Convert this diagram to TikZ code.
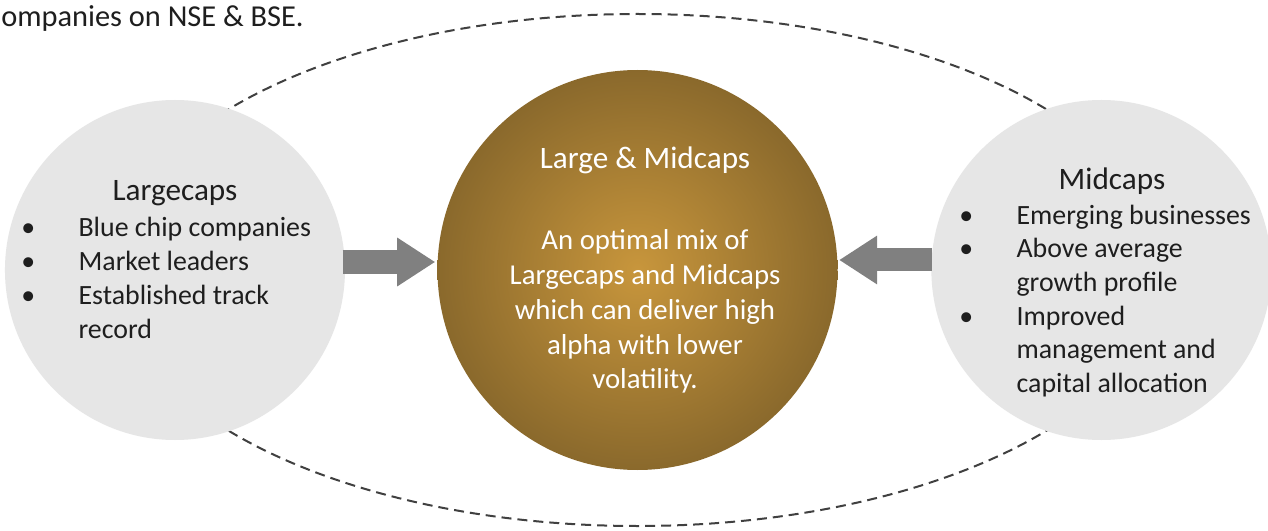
\documentclass[tikz,border=0pt]{standalone}
\usepackage{fontspec}
\setmainfont{Carlito}
\usepackage{xcolor}
\usepackage{tikz}
\usetikzlibrary{
  positioning,
  arrows.meta,
}
\definecolor{capgray}{RGB}{230,230,230}
\definecolor{arrowgray}{RGB}{128,128,128}
\definecolor{goldin}{RGB}{200,150,60}
\definecolor{goldout}{RGB}{138,105,44}
\definecolor{inkgray}{RGB}{30,30,30}
\definecolor{loopgray}{RGB}{64,64,64}
\tikzset{
  cap circle/.style={
    circle,
    fill=capgray,
    minimum size=255pt,
    inner sep=0pt
  },
  mix circle/.style={
    circle,
    inner color=goldin,
    outer color=goldout,
    minimum size=300pt,
    inner sep=0pt
  },
  push arrow/.style={
    arrowgray,
    line width=17.25pt,
    -{Triangle[width=34.5pt, length=28.5pt]}
  },
  loop line/.style={
    loopgray,
    line width=1.5pt,
    dash pattern=on 7.5pt off 4.5pt
  },
  title text/.style={
    inkgray,
    inner sep=0pt,
    anchor=base,
    font=\fontsize{23.4}{28}\selectfont
  },
  list text/.style={
    inkgray,
    inner sep=0pt,
    anchor=base west,
    font=\fontsize{20.9}{25.3}\selectfont
  }
}
\newcommand{\bulletlist}[1]{\begin{tabular}[t]{@{}p{43pt}@{}l@{}}#1\end{tabular}}

\begin{document}
\begin{tikzpicture}[x=0.75pt, y=-0.75pt]
  \useasboundingbox[fill=white] (0,0) rectangle (1268,531);

  \node[inkgray, anchor=base west, inner sep=0pt, font=\fontsize{22.8}{28}\selectfont] (intro) at (1,27) {ompanies on NSE \& BSE.};

  %% circles
  \node[mix circle] (mix) at (637.5,270) {};
  \draw[loop line] (mix.center) ellipse [x radius=394pt, y radius=192pt];
  \node[cap circle, left=69pt of mix]  (large) {};
  \node[cap circle, right=70pt of mix] (mid) {};

  \draw[push arrow] ([xshift=-2pt, yshift=6pt]large.east) -- ([xshift=-1.5pt, yshift=6pt]mix.west);
  \draw[push arrow] ([xshift=0.5pt, yshift=7.5pt]mid.west) -- ([xshift=1pt, yshift=7.5pt]mix.east);

  %% Largecaps
  \node[title text] (large title) at (175,201) {Largecaps};
  \node[list text] (large list) at (21,237) {\bulletlist{%
    • & Blue chip companies\\
    • & Market leaders\\
    • & Established track\\
      & record}};

  %% Large & Midcaps
  \node[title text, white] (mix title) at (645,169) {Large \& Midcaps};
  \node[title text, white, font=\fontsize{21.6}{26}\selectfont] (mix body) at (645,250) {%
    \begin{tabular}[t]{@{}c@{}}
    An optimal mix of\\
    Largecaps and Midcaps\\
    which can deliver high\\
    alpha with lower\\
    volatility.
    \end{tabular}};

  %% Midcaps
  \node[title text] (mid title) at (1112,190) {Midcaps};
  \node[list text] (mid list) at (959,224) {\bulletlist{%
    • & Emerging businesses\\
    • & Above average\\
      & growth profile\\
    • & Improved\\
      & management and\\
      & capital allocation}};
\end{tikzpicture}
\end{document}
